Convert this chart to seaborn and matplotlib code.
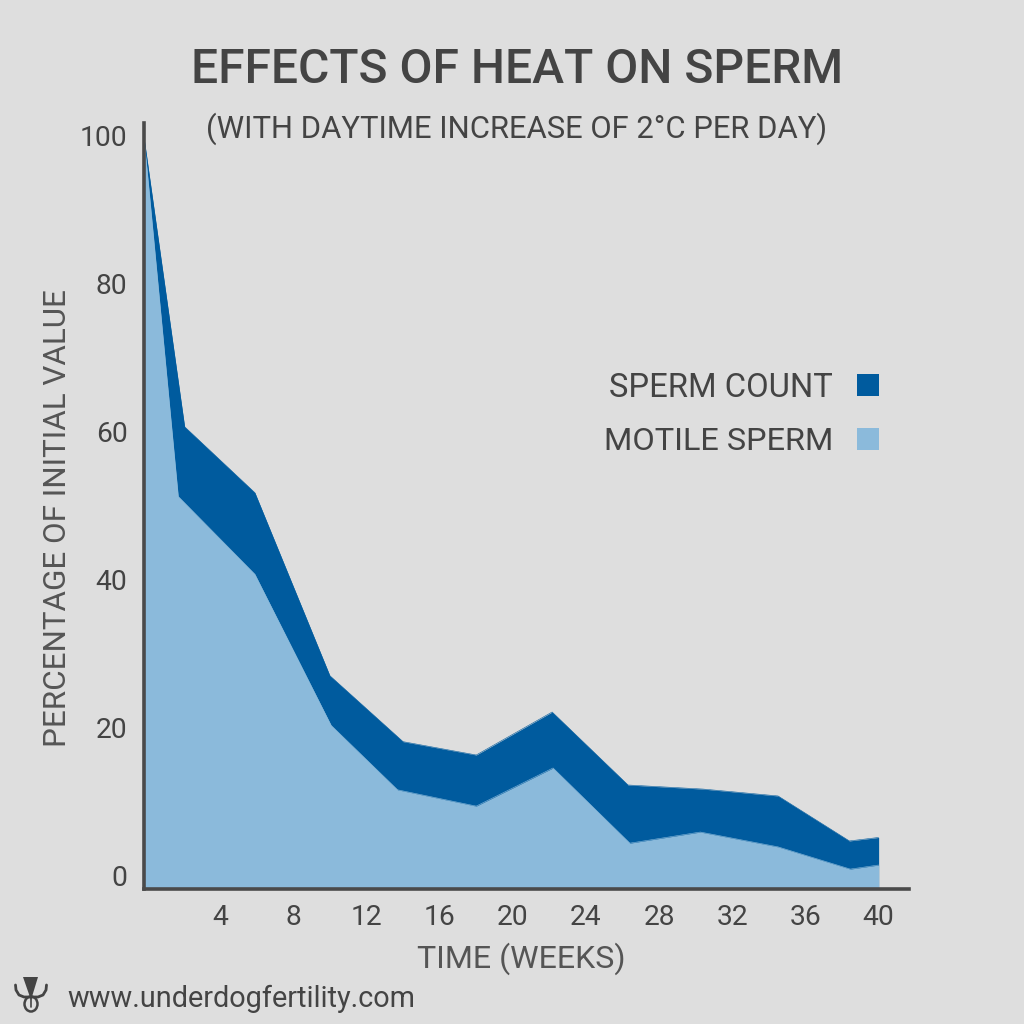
import matplotlib
matplotlib.use("Agg")
import matplotlib.pyplot as plt
import pandas as pd
import seaborn as sns
from matplotlib.patches import Ellipse, Polygon, Rectangle
from matplotlib.transforms import ScaledTranslation

# Values
count_weeks = [-0.16, 2.06, 5.9, 10, 14, 18, 22.15, 26.3, 30.4, 34.5, 38.4, 40.0]
sperm_count = [99.9, 60.9, 52.0, 27.3, 18.4, 16.6, 22.4, 12.55, 12.0, 11.07, 5.0, 5.47]
motile_weeks = [-0.16, 1.71, 5.9, 10.07, 13.7, 18, 22.2, 26.4, 30.25, 34.5, 38.45, 40.0]
motile_sperm = [99.9, 51.5, 41, 20.6, 11.9, 9.7, 14.85, 4.7, 6.2, 4.2, 1.2, 1.75]
x_ticks = [4, 8, 12, 16, 20, 24, 28, 32, 36, 40]
y_ticks = [0, 20, 40, 60, 80, 100]

BG = "#dedede"
TEXT = "#444444"
DARK = "#005b9e"
LIGHT = "#8bbadb"

sns.set_theme(style="ticks")
plt.rcParams["font.family"] = ["Roboto", "DejaVu Sans"]

count_df = pd.DataFrame({"weeks": count_weeks, "value": sperm_count})
motile_df = pd.DataFrame({"weeks": motile_weeks, "value": motile_sperm})

fig = plt.figure(figsize=(10.24, 10.24), dpi=100, facecolor=BG)
ax = fig.add_axes([143.5 / 1024, 1 - 888.5 / 1024, (909 - 143.5) / 1024, (888.5 - 123) / 1024], facecolor=BG)

base = -1.42
ax.fill_between(count_df["weeks"], base, count_df["value"], color=DARK, linewidth=0)
ax.fill_between(motile_df["weeks"], base, motile_df["value"], color=LIGHT, linewidth=0)
sns.lineplot(data=count_df, x="weeks", y="value", color=DARK, linewidth=0.4, ax=ax)
sns.lineplot(data=motile_df, x="weeks", y="value", color=LIGHT, linewidth=0.4, ax=ax)

ax.set_xlim(-0.19, 41.66)
ax.set_ylim(base, 101.9)
ax.set_xticks(x_ticks)
ax.set_yticks(y_ticks)
ax.tick_params(length=0, labelsize=20.3, labelcolor=TEXT)
ax.tick_params(axis="x", pad=11)
ax.tick_params(axis="y", pad=11.5)
ax.set_xlabel("")
ax.set_ylabel("")
sns.despine(ax=ax)
for side in ["left", "bottom"]:
    ax.spines[side].set_color("#4a4a4a")
    ax.spines[side].set_linewidth(2.6)

# y labels sit a touch higher than their ticks in the reference
shift = ScaledTranslation(0, 2 / 100, fig.dpi_scale_trans)
for label in ax.get_yticklabels():
    label.set_transform(label.get_transform() + shift)

# overlay in pixel coordinates for the text and the small logo
over = fig.add_axes([0, 0, 1, 1], facecolor="none")
over.set_xlim(0, 1024)
over.set_ylim(1024, 0)
over.axis("off")

over.text(517, 70, "EFFECTS OF HEAT ON SPERM", fontsize=34.6, color=TEXT, ha="center", va="center", fontweight="medium")
over.text(517, 129, "(WITH DAYTIME INCREASE OF 2°C PER DAY)", fontsize=22.3, color=TEXT, ha="center", va="center")
over.text(521, 959, "TIME (WEEKS)", fontsize=23.1, color="#555555", ha="center", va="center")
over.text(58, 518, "PERCENTAGE OF INITIAL VALUE", fontsize=22.6, color="#555555", ha="center", va="center", rotation=90)
over.text(833, 388, "SPERM COUNT", fontsize=23.6, color=TEXT, ha="right", va="center")
over.text(833, 441, "MOTILE SPERM", fontsize=23.4, color=TEXT, ha="right", va="center")
over.add_patch(Rectangle((857, 374), 22, 22, color=DARK, linewidth=0))
over.add_patch(Rectangle((857, 428), 22, 22, color=LIGHT, linewidth=0))
over.text(67, 999, "www.underdogfertility.com", fontsize=20.8, color=TEXT, ha="left", va="center")

# logo
over.add_patch(Polygon([[23, 977], [38, 977], [31, 1000]], color=TEXT, linewidth=0))
over.plot([15.5, 16, 19, 24, 38, 43, 46, 46.5], [985, 990, 995, 997, 997, 995, 990, 985], color=TEXT, linewidth=2)
over.add_patch(Ellipse((31, 1004), 13, 15, fill=False, edgecolor=TEXT, linewidth=1.8))
over.plot([31, 31], [998, 1007], color=TEXT, linewidth=1.2)
over.set_xlim(0, 1024)
over.set_ylim(1024, 0)

fig.savefig("out.png", dpi=100, facecolor=BG)
